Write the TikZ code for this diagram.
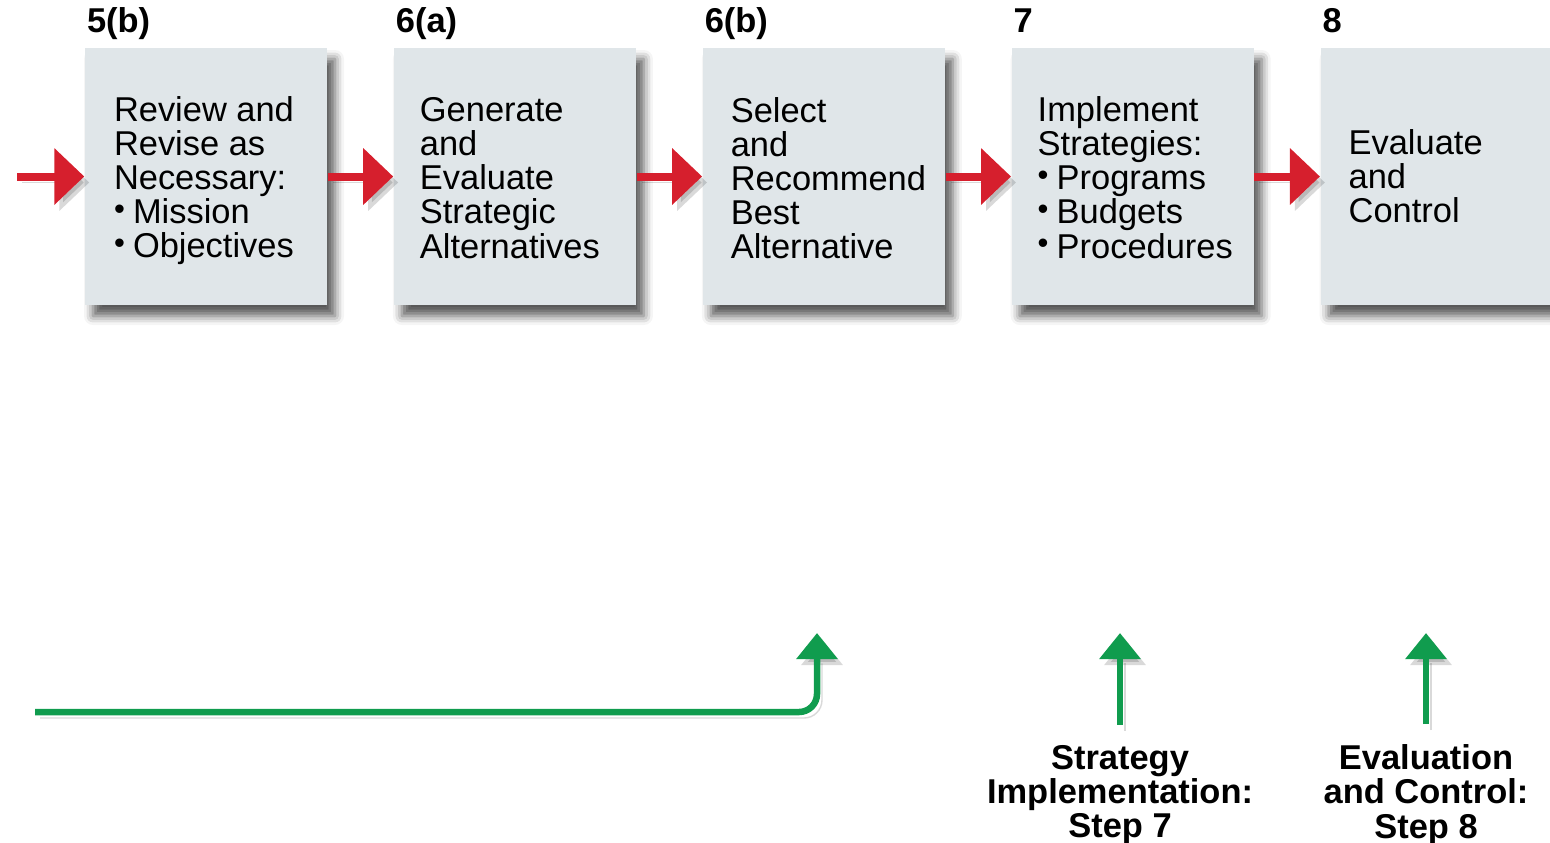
\documentclass[tikz,border=0pt]{standalone}
\usepackage{fontspec}
\setmainfont{Liberation Sans}
\usepackage{graphicx}
\usetikzlibrary{positioning, arrows.meta, shadows.blur}

\definecolor{boxgray}{HTML}{E0E6E9}
\definecolor{stepred}{HTML}{D61F2D}
\definecolor{stepgreen}{HTML}{109C4E}

\newcommand{\boxfont}{\fontsize{9.8}{9.7}\selectfont}
\newcommand{\bul}{\makebox[0.19cm][l]{\raisebox{0.12em}{\scalebox{0.9}{\textbullet}}}}

\tikzset{
  stepbox/.style={fill=boxgray, minimum width=2.42cm, minimum height=2.57cm, inner sep=0pt,
    blur shadow={shadow xshift=0.08cm, shadow yshift=-0.11cm, shadow blur radius=0.09cm, shadow opacity=65}},
  boxtext/.style={anchor=west, align=left, inner sep=0pt, font=\boxfont},
  steplbl/.style={anchor=base west, inner sep=0pt, font=\boxfont\bfseries},
  botlbl/.style={align=center, inner sep=0pt, font=\boxfont\bfseries},
  softshadow/.style={preaction={draw=black, opacity=0.15, transform canvas={shift={(0.05cm,-0.06cm)}}}},
  redarrow/.style={draw=stepred, line width=0.08cm, -{Triangle[length=0.3cm, width=0.55cm]}, softshadow},
  greenarrow/.style={draw=stepgreen, line width=0.065cm, -{Triangle[length=0.26cm, width=0.4cm]}, softshadow}
}

\begin{document}
\begin{tikzpicture}
 \useasboundingbox (0,0) rectangle (15.5,-8.42);
 \clip (0,0) rectangle (15.5,-8.42);

 % the five steps
 \node[stepbox] (box1) at (2.06,-1.765) {};
 \node[stepbox, right=0.655cm of box1] (box2) {};
 \node[stepbox, right=0.655cm of box2] (box3) {};
 \node[stepbox, right=0.655cm of box3] (box4) {};
 \node[stepbox, right=0.655cm of box4] (box5) {};

 \node[boxtext] (txt1) at ([xshift=0.29cm, yshift=-0.04cm]box1.west) {Review and\\Revise as\\Necessary:\\\bul Mission\\\bul Objectives};
 \node[boxtext] (txt2) at ([xshift=0.26cm, yshift=-0.015cm]box2.west) {Generate\\and\\Evaluate\\Strategic\\Alternatives};
 \node[boxtext] (txt3) at ([xshift=0.28cm, yshift=-0.015cm]box3.west) {Select\\and\\Recommend\\Best\\Alternative};
 \node[boxtext] (txt4) at ([xshift=0.26cm, yshift=-0.01cm]box4.west) {Implement\\Strategies:\\\bul Programs\\\bul Budgets\\\bul Procedures};
 \node[boxtext] (txt5) at ([xshift=0.28cm]box5.west) {Evaluate\\and\\Control};

 \foreach \b/\lbl in {box1/5(b), box2/6(a), box3/6(b), box4/7, box5/8} {
  \node[steplbl] (num-\b) at ([xshift=0.02cm, yshift=0.15cm]\b.north west) {\lbl};
 }

 % red flow
 \coordinate (in) at (0.17,-1.765);
 \draw[redarrow] (in) -- (box1.west);
 \foreach \a/\b in {box1/box2, box2/box3, box3/box4, box4/box5} {
  \draw[redarrow] (\a.east) -- (\b.west);
 }

 % green feedback arrows
 \coordinate (gstart) at (0.35,-7.12);
 \coordinate (gtip) at (8.17,-6.33);
 \draw[greenarrow, rounded corners=0.18cm] (gstart) -| (gtip);

 \node[botlbl] (lbl7) at (11.20,-7.95) {Strategy\\Implementation:\\Step 7};
 \node[botlbl] (lbl8) at (14.26,-7.95) {Evaluation\\and Control:\\Step 8};
 \coordinate (tip7) at (11.20,-6.33);
 \coordinate (tip8) at (14.26,-6.33);
 \draw[greenarrow] ([yshift=0.2cm]lbl7.north) -- (tip7);
 \draw[greenarrow] ([yshift=0.2cm]lbl8.north) -- (tip8);
\end{tikzpicture}
\end{document}
